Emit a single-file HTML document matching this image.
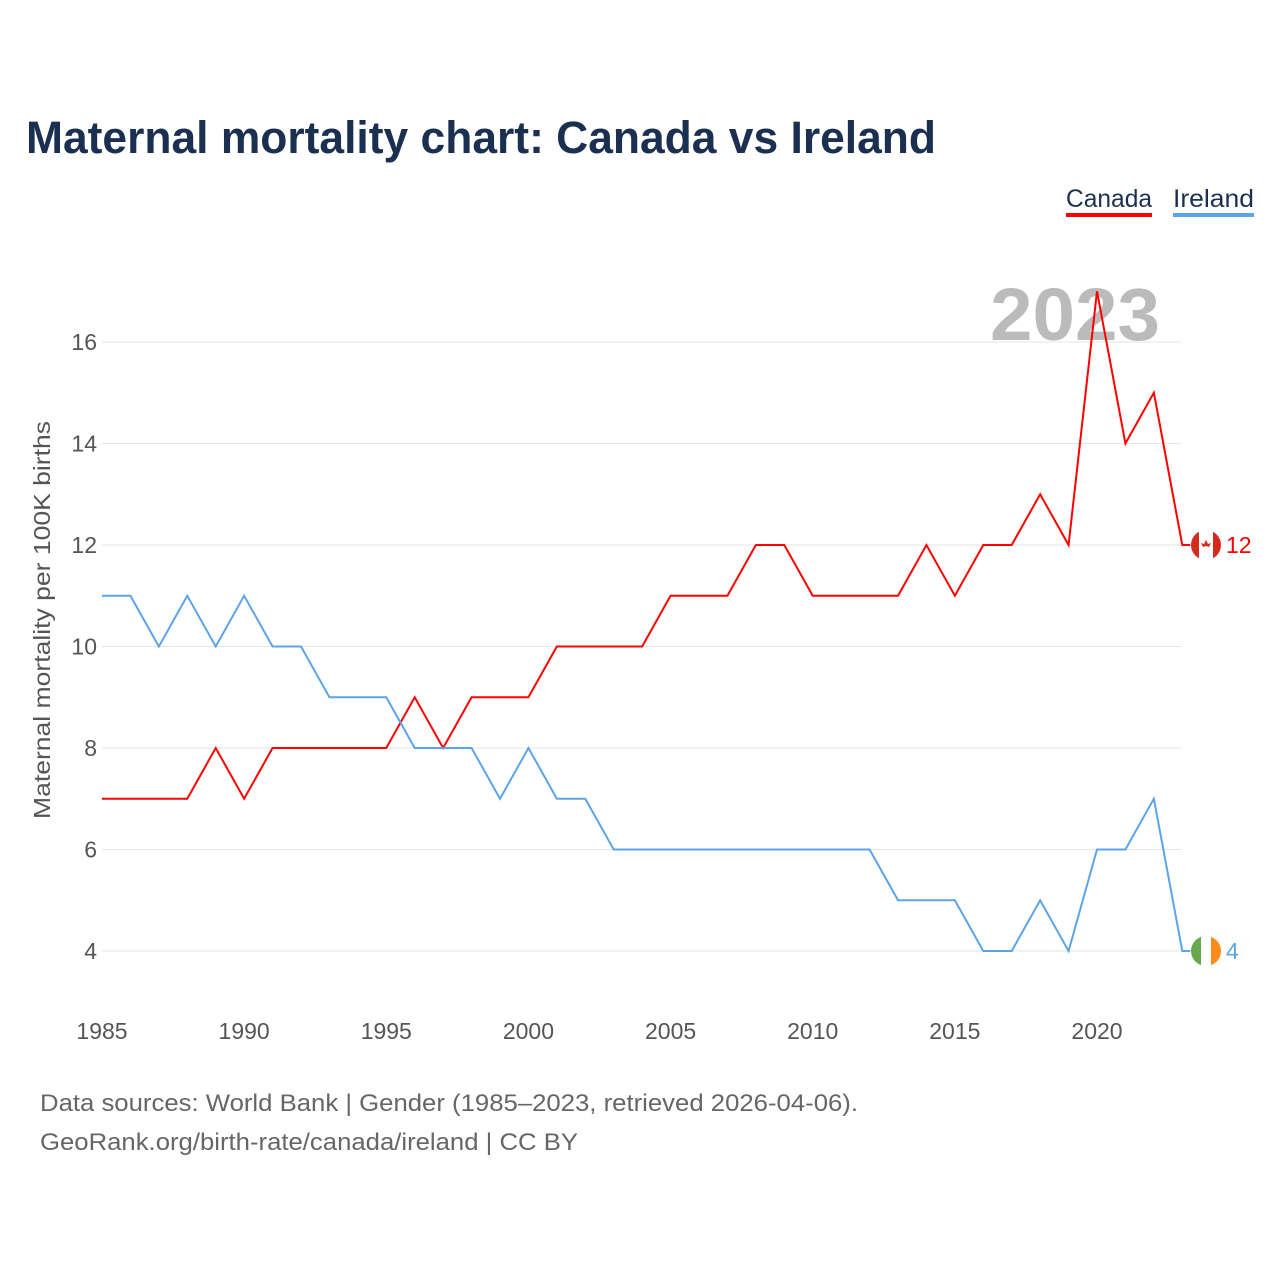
<!DOCTYPE html>
<html><head><meta charset="utf-8"><style>
body{margin:0;background:#fff;font-family:"Liberation Sans",sans-serif}
#wrap{position:relative;width:1280px;height:1280px}
</style></head><body>
<div id="wrap">
<svg id="svg" width="1280" height="1280" xmlns="http://www.w3.org/2000/svg">
<defs>
<clipPath id="cc"><circle cx="0" cy="0" r="15"/></clipPath>
</defs>
<text x="26" y="153" font-size="45" font-weight="bold" fill="#1b3050" textLength="910" lengthAdjust="spacingAndGlyphs">Maternal mortality chart: Canada vs Ireland</text>
<g><text x="1066" y="207" font-size="25" fill="#1b3050" textLength="86" lengthAdjust="spacingAndGlyphs">Canada</text><rect x="1066" y="213" width="86" height="4" fill="#ff0000"/></g>
<g><text x="1173" y="207" font-size="25" fill="#1b3050" textLength="81" lengthAdjust="spacingAndGlyphs">Ireland</text><rect x="1173" y="213" width="81" height="4" fill="#5ba4ea"/></g>
<text x="1160" y="340" font-size="74" font-weight="bold" fill="#bbbbbb" text-anchor="end" textLength="170" lengthAdjust="spacingAndGlyphs">2023</text>
<text transform="translate(50,620) rotate(-90)" font-size="23" fill="#555" text-anchor="middle" textLength="398" lengthAdjust="spacingAndGlyphs">Maternal mortality per 100K births</text>
<g id="grid"></g><g id="lines"></g>
<text x="40" y="1111" font-size="24" fill="#666" textLength="818" lengthAdjust="spacingAndGlyphs">Data sources: World Bank | Gender (1985–2023, retrieved 2026-04-06).</text>
<text x="40" y="1150" font-size="24" fill="#666" textLength="538" lengthAdjust="spacingAndGlyphs">GeoRank.org/birth-rate/canada/ireland | CC BY</text>
</svg></div>
<script>
const years=[];for(let y=1985;y<=2023;y++)years.push(y);
const canada=[7,7,7,7,8,7,8,8,8,8,8,9,8,9,9,9,10,10,10,10,11,11,11,12,12,11,11,11,11,12,11,12,12,13,12,17,14,15,12];
const ireland=[11,11,10,11,10,11,10,10,9,9,9,8,8,8,7,8,7,7,6,6,6,6,6,6,6,6,6,6,5,5,5,4,4,5,4,6,6,7,4];
const yTicks=[4,6,8,10,12,14,16];
const xTicks=[1985,1990,1995,2000,2005,2010,2015,2020];
const X=y=>102+(y-1985)*(1097-102)/35;
const Y=v=>951-(v-4)*(951-342)/12;
const NS="http://www.w3.org/2000/svg";
const grid=document.getElementById('grid'),lines=document.getElementById('lines');
function mk(tag,attrs,parent){const e=document.createElementNS(NS,tag);for(const k in attrs)e.setAttribute(k,attrs[k]);parent.appendChild(e);return e;}
yTicks.forEach(v=>{
 const l=mk('line',{x1:102,x2:1181,y1:Y(v),y2:Y(v),stroke:'#e6e6e6','stroke-width':1},grid);
 
 
 const t=mk('text',{x:97,y:Y(v)+8,'font-size':23,fill:'#555','text-anchor':'end'},grid);t.textContent=v;
 
 
});
xTicks.forEach(v=>{
 const t=mk('text',{x:X(v),y:1039,'font-size':23,fill:'#555','text-anchor':'middle'},grid);t.textContent=v;
 
 
});
function series(data,color,name){
 const pts=data.map((v,i)=>X(years[i])+','+Y(v));
 const last=data[data.length-1];
 pts.push((X(2023)+8)+','+Y(last));
 const p=mk('polyline',{points:pts.join(' '),fill:'none',stroke:color,'stroke-width':2},lines);
 
 
 const t=mk('text',{x:1226,y:Y(last)+8,'font-size':23,fill:color},lines);t.textContent=last;
 
 
 return Y(last);
}
const yc=series(canada,'#ff0000','canada');
const yi=series(ireland,'#5ba4ea','ireland');
let g=mk('g',{transform:`translate(1206,${yc})`,'clip-path':'url(#cc)'},lines);


mk('rect',{x:-15,y:-15,width:30,height:30,fill:'#fff'},g);
mk('rect',{x:-15,y:-15,width:8,height:30,fill:'#d52b1e'},g);
mk('rect',{x:7,y:-15,width:8,height:30,fill:'#d52b1e'},g);
mk('path',{d:'M0 -5 L2 -1 L5 -2 L3 2 L0 1 L-3 2 L-5 -2 L-2 -1Z',fill:'#d52b1e'},g);
g=mk('g',{transform:`translate(1206,${yi})`,'clip-path':'url(#cc)'},lines);


mk('rect',{x:-15,y:-15,width:30,height:30,fill:'#fff'},g);
mk('rect',{x:-15,y:-15,width:10,height:30,fill:'#6aa84f'},g);
mk('rect',{x:5,y:-15,width:10,height:30,fill:'#ff8c1a'},g);
</script></body></html>
